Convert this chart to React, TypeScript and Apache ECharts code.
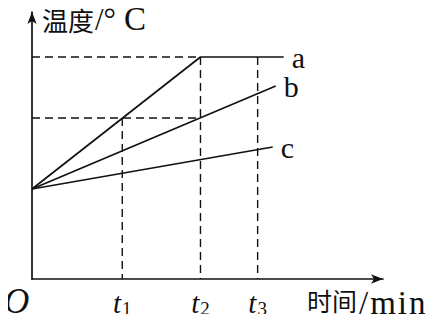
import React, { useEffect, useRef } from "react";
import * as echarts from "echarts";

const startTemp = 9;
const tTicks = [9, 16.8, 22.5];
const tNames = ["1", "2", "3"];
const lineA = [[0, startTemp], [16.8, 22.2], [25.1, 22.2]];
const lineB = [[0, startTemp], [24.3, 19.3]];
const lineC = [[0, startTemp], [24.0, 13.2]];
const midTemp = 16.1;
const topTemp = 22.2;
const seriesNames = ["a", "b", "c"];

const serif = "'Liberation Serif', 'DejaVu Serif', serif";
const cjk = "'Noto Sans CJK SC', sans-serif";

export default function App() {
  const ref = useRef<HTMLDivElement>(null);
  useEffect(() => {
    const chart = echarts.init(ref.current!, null, { renderer: "svg" });
    const solid = { color: "#111", width: 1.7 };
    const dashed = { color: "#111", width: 1.4, type: [8, 5] as any };
    const mk = (name: string, data: number[][], label?: string, ls: any = solid) => ({
      type: "line",
      name,
      data,
      symbol: "none",
      silent: true,
      lineStyle: ls,
      z: ls === solid ? 3 : 2,
      endLabel: label
        ? { show: true, formatter: label, distance: 8, color: "#111", fontSize: 30, fontFamily: serif }
        : { show: false },
    });
    const lat = { fontSize: 33, fontFamily: serif, fill: "#111", padding: [0, 0, 0, 2] };
    chart.setOption({
      animation: false,
      grid: { left: 32, top: 12, right: 54, bottom: 43 },
      xAxis: {
        type: "value",
        min: 0,
        max: 35,
        splitLine: { show: false },
        axisTick: { show: false },
        axisLine: { show: true, symbol: ["none", "arrow"], symbolSize: [7, 12], lineStyle: { color: "#111", width: 1.7 } },
        axisLabel: {
          customValues: tTicks,
          margin: 8,
          formatter: (v: number) => {
            const i = tTicks.indexOf(v);
            return i >= 0 ? `{t|t}{s|${tNames[i]}}` : "";
          },
          rich: {
            t: { fontFamily: serif, fontStyle: "italic", fontSize: 29, color: "#111" },
            s: { fontFamily: serif, fontSize: 19, color: "#111", verticalAlign: "bottom", padding: [12, 0, 0, 1] },
          },
        },
      },
      yAxis: {
        type: "value",
        min: 0,
        max: 26.7,
        splitLine: { show: false },
        axisTick: { show: false },
        axisLabel: { show: false },
        axisLine: { show: true, symbol: ["none", "arrow"], symbolSize: [7, 12], lineStyle: { color: "#111", width: 1.7 } },
      },
      series: [
        mk("a", lineA, seriesNames[0]),
        mk("b", lineB, seriesNames[1]),
        mk("c", lineC, seriesNames[2]),
        mk("d1", [[0, topTemp], [tTicks[1], topTemp]], undefined, dashed),
        mk("d2", [[0, midTemp], [tTicks[1], midTemp]], undefined, dashed),
        mk("d3", [[tTicks[0], midTemp], [tTicks[0], 0]], undefined, dashed),
        mk("d4", [[tTicks[1], topTemp], [tTicks[1], 0]], undefined, dashed),
        mk("d5", [[tTicks[2], topTemp], [tTicks[2], 0]], undefined, dashed),
      ],
      graphic: [
        {
          type: "text",
          x: 42,
          y: 19,
          style: {
            text: "{c|温度}{e|/°}{f|C}",
            verticalAlign: "middle",
            rich: {
              c: { fontSize: 26, fontFamily: cjk, fill: "#111", padding: [0, 1, 0, 0] },
              e: { fontSize: 31, fontFamily: serif, fill: "#111" },
              f: { fontSize: 33, fontFamily: serif, fill: "#111", padding: [0, 0, 0, 8] },
            },
          },
        },
        {
          type: "text",
          x: 307,
          y: 303,
          style: {
            text: "{c|时间}{e|/}{e|m}{e|i}{e|n}",
            verticalAlign: "middle",
            rich: {
              c: { fontSize: 25, fontFamily: cjk, fill: "#111", padding: [0, 0, 6, 0] },
              e: lat,
            },
          },
        },
        { type: "text", x: 4, y: 301, style: { text: "O", verticalAlign: "middle", fontSize: 35, fontStyle: "italic", fontFamily: serif, fill: "#111" } },
      ],
    });
    return () => chart.dispose();
  }, []);
  return <div ref={ref} style={{ width: 437, height: 322, margin: -8, background: "#fff" }} />;
}
